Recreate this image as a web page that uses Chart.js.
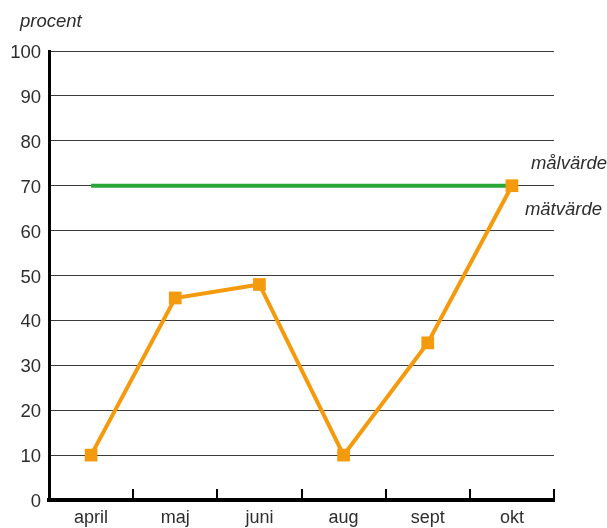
<!DOCTYPE html>
<html>
<head>
<meta charset="utf-8">
<script src="https://cdn.jsdelivr.net/npm/chart.js@4/dist/chart.umd.min.js"></script>
<style>
  html, body { margin: 0; padding: 0; background: #fff; }
  #wrap { width: 607px; height: 528px; }
</style>
</head>
<body>
<div id="wrap"><canvas id="chart" width="607" height="528"></canvas></div>
<script>
// data
const months = ["april", "maj", "juni", "aug", "sept", "okt"];
const matvarde = [10, 45, 48, 10, 35, 70];
const malvarde = [70, 70, 70, 70, 70, 70];
const yTicks = [0, 10, 20, 30, 40, 50, 60, 70, 80, 90, 100];

const FONT = "'Liberation Sans', Arial, sans-serif";
const TEXT = "#2e2e2e";
const ORANGE = "#f39a0e";
const GREEN = "#2aa636";

// ticks between categories + labels at right + "procent"
const extras = {
  id: "extras",
  afterDraw(chart) {
    const { ctx, chartArea, scales } = chart;
    const x = scales.x;
    const step = x.getPixelForValue(1) - x.getPixelForValue(0);

    ctx.save();
    ctx.strokeStyle = "#000";
    ctx.lineWidth = 2;
    for (let i = 0; i <= months.length; i++) {
      const px = Math.round(x.getPixelForValue(i) - step / 2);
      ctx.beginPath();
      ctx.moveTo(px, chartArea.bottom);
      ctx.lineTo(px, chartArea.bottom - 11);
      ctx.stroke();
    }

    ctx.fillStyle = TEXT;
    ctx.font = "italic 18.5px " + FONT;
    ctx.textBaseline = "middle";
    ctx.textAlign = "left";
    ctx.fillText("procent", chartArea.left - 29, chartArea.top - 29);

    const last = months.length - 1;
    const lx = x.getPixelForValue(last);
    const ly = scales.y.getPixelForValue(malvarde[last]);
    ctx.fillText("målvärde", lx + 19, ly - 22);
    ctx.fillText("mätvärde", lx + 13, ly + 24);
    ctx.restore();
  },
};

new Chart(document.getElementById("chart"), {
  type: "line",
  data: {
    labels: months,
    datasets: [
      {
        label: "målvärde",
        data: malvarde,
        borderColor: GREEN,
        borderWidth: 4,
        pointRadius: 0,
        order: 2,
      },
      {
        label: "mätvärde",
        data: matvarde,
        borderColor: ORANGE,
        backgroundColor: ORANGE,
        borderWidth: 4,
        pointStyle: "rect",
        pointRadius: 9,
        pointBorderWidth: 0,
        order: 1,
      },
    ],
  },
  options: {
    responsive: false,
    animation: false,
    layout: { padding: { top: 51, right: 53, bottom: 0, left: 0 } },
    plugins: {
      legend: { display: false },
      tooltip: { enabled: false },
    },
    scales: {
      x: {
        offset: true,
        grid: { display: false, drawTicks: false },
        border: { display: true, color: "#000", width: 4 },
        ticks: { color: TEXT, font: { family: FONT, size: 18 }, padding: 7 },
        afterFit: (s) => { s.height = 28; },
      },
      y: {
        min: 0,
        max: 100,
        afterBuildTicks: (s) => { s.ticks = yTicks.map((v) => ({ value: v })); },
        grid: {
          color: (c) => (c.tick && c.tick.value === 0 ? "rgba(0,0,0,0)" : "#3a3a3a"),
          lineWidth: 1,
          drawTicks: false,
        },
        border: { display: true, color: "#000", width: 3 },
        ticks: { color: TEXT, font: { family: FONT, size: 18.5 }, padding: 8, labelOffset: 2 },
        afterFit: (s) => { s.width = 49; },
      },
    },
  },
  plugins: [extras],
});
</script>
</body>
</html>
